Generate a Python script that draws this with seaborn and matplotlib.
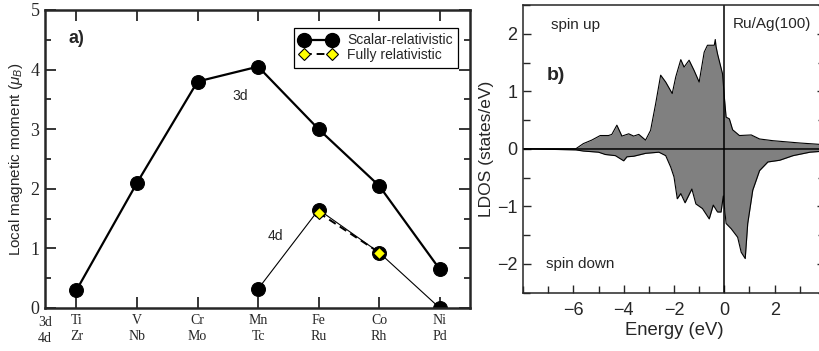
import matplotlib
matplotlib.use("Agg")
import matplotlib.pyplot as plt
import matplotlib.transforms as mtransforms
from matplotlib.lines import Line2D
from matplotlib.ticker import MultipleLocator
import numpy as np
import pandas as pd
import seaborn as sns

# ---------------- data ----------------
elements_3d = ["Ti", "V", "Cr", "Mn", "Fe", "Co", "Ni"]
elements_4d = ["Zr", "Nb", "Mo", "Tc", "Ru", "Rh", "Pd"]
moment_3d = [0.30, 2.10, 3.80, 4.05, 3.00, 2.05, 0.65]
elements_4d_calc = ["Tc", "Ru", "Rh", "Pd"]
moment_4d = [0.32, 1.65, 0.93, 0.00]
elements_4d_full = ["Ru", "Rh"]
moment_4d_full = [1.60, 0.93]

energy_up = [-8.0, -5.9, -5.6, -5.27, -4.93, -4.6, -4.47, -4.27, -4.07, -3.8, -3.6, -3.4,
             -3.13, -2.93, -2.73, -2.53, -2.33, -2.07, -1.93, -1.73, -1.6, -1.4, -1.2, -1.0,
             -0.8, -0.67, -0.4, -0.36, -0.33, -0.27, -0.07, 0.0, 0.07, 0.2, 0.33, 0.6, 1.07,
             1.4, 1.93, 3.0, 4.0]
dos_up = [0.0, 0.0, 0.09, 0.15, 0.23, 0.23, 0.25, 0.41, 0.22, 0.26, 0.22, 0.25,
          0.15, 0.32, 0.78, 1.28, 1.16, 0.96, 1.25, 1.55, 1.42, 1.54, 1.36, 1.16,
          1.68, 1.80, 1.80, 1.90, 1.78, 1.65, 1.30, 0.90, 0.55, 0.52, 0.33, 0.23, 0.24,
          0.17, 0.14, 0.10, 0.07]
energy_down = [-8.0, -5.9, -5.6, -5.0, -4.73, -4.33, -4.0, -3.87, -3.6, -3.13, -2.6, -2.33,
               -2.13, -2.0, -1.87, -1.73, -1.56, -1.29, -1.13, -0.87, -0.6, -0.44, -0.27,
               -0.13, -0.04, 0.07, 0.27, 0.53, 0.67, 0.83, 0.93, 1.13, 1.4, 1.73, 2.2, 2.73,
               3.4, 4.0]
dos_down = [0.0, -0.02, -0.04, -0.06, -0.10, -0.12, -0.21, -0.14, -0.13, -0.08, -0.06, -0.12,
            -0.32, -0.49, -0.87, -0.78, -0.94, -0.70, -0.96, -1.04, -1.22, -0.98, -1.10,
            -1.10, -0.82, -1.30, -1.39, -1.54, -1.80, -1.91, -1.30, -0.72, -0.38, -0.23,
            -0.20, -0.12, -0.06, -0.04]

# ---------------- style ----------------
sns.set_style("ticks")
plt.rcParams["font.family"] = ["Liberation Sans", "DejaVu Sans"]
plt.rcParams["mathtext.fontset"] = "custom"
plt.rcParams["mathtext.rm"] = "Liberation Sans"
plt.rcParams["mathtext.it"] = "Liberation Sans:italic"

SANS = ["Liberation Sans", "DejaVu Sans"]
SERIF = ["Liberation Serif", "DejaVu Serif"]

fig = plt.figure(figsize=(8.19, 3.51), dpi=100)
W, H = 819, 351
axA = fig.add_axes([45 / W, (H - 308) / H, 425 / W, 298 / H])
axB = fig.add_axes([523 / W, (H - 292.5) / H, 302 / W, 287.5 / H])

# ---------------- panel a ----------------
pos = {e: i for i, e in enumerate(elements_3d)}
pos4 = {e: i for i, e in enumerate(elements_4d)}
df3 = pd.DataFrame({"x": [pos[e] for e in elements_3d], "y": moment_3d})
df4 = pd.DataFrame({"x": [pos4[e] for e in elements_4d_calc], "y": moment_4d})
dff = pd.DataFrame({"x": [pos4[e] for e in elements_4d_full], "y": moment_4d_full})

sns.lineplot(data=df3, x="x", y="y", ax=axA, color="black", linewidth=1.6,
             marker="o", markersize=10, markeredgecolor="black", sort=False)
sns.lineplot(data=df4, x="x", y="y", ax=axA, color="black", linewidth=0.8,
             marker="o", markersize=10, markeredgecolor="black", sort=False)
sns.lineplot(data=dff, x="x", y="y", ax=axA, color="black", linewidth=1.4,
             linestyle=(0, (4, 2.5)), marker="D", markersize=6.5,
             markerfacecolor="#ffff00", markeredgecolor="black", markeredgewidth=0.8,
             sort=False)

axA.set_xlim(-0.52, 6.5)
axA.set_ylim(0, 5)
axA.set_xticks(range(len(elements_3d)))
axA.set_xticklabels([f"{a}\n{b}" for a, b in zip(elements_3d, elements_4d)],
                    family=SERIF, fontsize=10, linespacing=1.3)
axA.set_yticks(range(6))
axA.set_yticklabels([str(v) for v in range(6)], family=SERIF, fontsize=13)
axA.yaxis.set_minor_locator(MultipleLocator(0.5))
axA.tick_params(which="both", direction="in", top=True, right=True, width=1.3)
axA.tick_params(which="major", length=8)
axA.tick_params(which="minor", length=4)
axA.tick_params(axis="x", pad=4)
axA.tick_params(axis="y", pad=4)
for s in axA.spines.values():
    s.set_linewidth(1.8)
axA.set_xlabel("")
axA.set_ylabel(r"Local magnetic moment ($\mu_{B}$)", fontsize=11, labelpad=4)

trans = mtransforms.blended_transform_factory(axA.transData, axA.transAxes)
axA.text(-0.52, -0.026, "3d\n4d", transform=trans, ha="center", va="top",
         family=SERIF, fontsize=10, linespacing=1.3)
axA.text(0.055, 0.905, "a)", transform=axA.transAxes, fontsize=13, fontweight="bold",
         ha="left", va="center", family=SANS)
axA.text(2.70, 3.55, "3d", fontsize=10, ha="center", va="center", family=SANS)
axA.text(3.28, 1.2, "4d", fontsize=10, ha="center", va="center", family=SANS)

handles = [
    Line2D([], [], color="black", linewidth=1.6, marker="o", markersize=10),
    Line2D([], [], color="black", linewidth=1.4, linestyle=(0, (4, 2.5)), marker="D",
           markersize=6.5, markerfacecolor="#ffff00", markeredgecolor="black",
           markeredgewidth=0.8),
]
leg = axA.legend(handles, ["Scalar-relativistic", "Fully relativistic"],
                 loc="upper right", bbox_to_anchor=(0.972, 0.94), borderaxespad=0,
                 fancybox=False, framealpha=1, edgecolor="black",
                 prop={"family": SANS, "size": 10},
                 handlelength=2.6, numpoints=2, labelspacing=0.05, borderpad=0.4,
                 handletextpad=0.8)
leg.get_frame().set_linewidth(0.9)

# ---------------- panel b ----------------
axB.fill_between(energy_up, dos_up, 0, color="#808080", linewidth=0)
axB.fill_between(energy_down, dos_down, 0, color="#808080", linewidth=0)
sns.lineplot(x=energy_up, y=dos_up, ax=axB, color="black", linewidth=0.8, sort=False)
sns.lineplot(x=energy_down, y=dos_down, ax=axB, color="black", linewidth=0.8, sort=False)
axB.axhline(0, color="black", linewidth=1.1)
axB.axvline(0, color="black", linewidth=1.1)

axB.set_xlim(-8, 4)
axB.set_ylim(-2.5, 2.5)
axB.set_xticks([-6, -4, -2, 0, 2])
axB.set_xticklabels(["\u22126", "\u22124", "\u22122", "0", "2"])
axB.xaxis.set_minor_locator(MultipleLocator(1))
axB.set_yticks([-2, -1, 0, 1, 2])
axB.set_yticklabels(["\u22122", "\u22121", "0", "1", "2"])
axB.yaxis.set_minor_locator(MultipleLocator(0.5))
axB.tick_params(which="both", direction="in", right=True, top=False, labelsize=13, width=1)
axB.tick_params(which="major", length=6)
axB.tick_params(which="minor", length=5)
axB.tick_params(axis="x", pad=7)
axB.tick_params(axis="y", pad=4)
for s in axB.spines.values():
    s.set_linewidth(1.1)
axB.set_xlabel("Energy (eV)", fontsize=13.3, labelpad=2)
axB.set_ylabel("LDOS (states/eV)", fontsize=12.5, labelpad=2)
axB.text(-6.9, 2.15, "spin up", fontsize=11, ha="left", va="center")
axB.text(-7.1, -2.0, "spin down", fontsize=11, ha="left", va="center")
axB.text(0.35, 2.17, "Ru/Ag(100)", fontsize=11, ha="left", va="center")
axB.text(-7.05, 1.28, "b)", fontsize=14, fontweight="bold", ha="left", va="center")

fig.savefig("out.png", dpi=100)
